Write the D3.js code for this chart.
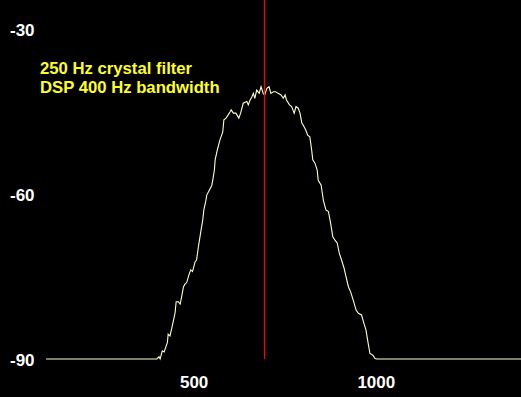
<!DOCTYPE html>
<html>
<head>
<meta charset="utf-8">
<script src="https://cdn.jsdelivr.net/npm/d3@7"></script>
<style>
  html, body { margin: 0; padding: 0; background: #000; }
  svg { display: block; }
  .tick text { font-family: "Liberation Sans", Arial, sans-serif; font-weight: bold; font-size: 17px; fill: #fff; }
  .note { font-family: "Liberation Sans", Arial, sans-serif; font-weight: bold; font-size: 16.7px; fill: #ffff22; }
</style>
</head>
<body>
<script>
// measured response: frequency (Hz) and level (dB)
var freqs = [95, 399, 405, 408, 414, 419, 428, 430, 435, 440, 449, 452, 458, 463, 467, 472, 476, 481, 487, 492,
    497, 504, 508, 513, 519, 525, 528, 533, 536, 543, 550, 554, 557, 559, 565, 572, 580, 583, 589, 598,
    603, 609, 616, 624, 629, 636, 646, 650, 655, 660, 664, 668, 673, 680, 685, 691, 695, 701, 707, 712,
    719, 725, 732, 740, 746, 751, 755, 763, 769, 776, 781, 787, 792, 797, 801, 808, 813, 819, 824, 827,
    833, 839, 842, 850, 856, 863, 870, 876, 882, 888, 894, 900, 906, 913, 916, 925, 931, 938, 946, 952,
    961, 966, 973, 979, 984, 992, 998, 1003, 1400];
var levels = [-90, -90, -89.6, -90, -88.5, -88.7, -87.0, -85.5, -85.8, -84.4, -81.6, -79.6, -79.6, -80.0, -78.7, -76.9, -76.4, -76.1, -74.7, -73.8,
    -74.1, -72.3, -72.0, -69.6, -67.1, -64.7, -62.9, -61.4, -60.2, -59.3, -58.4, -56.9, -55.6, -53.8, -52.0, -50.2, -48.7, -46.5, -46.2, -45.3,
    -44.7, -45.3, -45.3, -46.2, -45.3, -43.5, -43.2, -43.8, -42.9, -42.3, -41.7, -42.6, -41.1, -41.7, -40.5, -41.7, -42.0, -40.8, -40.5, -41.7,
    -41.4, -41.4, -41.7, -42.0, -42.6, -42.0, -42.9, -43.8, -44.1, -45.3, -44.1, -44.4, -45.3, -47.1, -47.5, -48.4, -49.3, -49.6, -52.0, -53.8,
    -54.4, -55.6, -57.5, -58.4, -61.1, -62.9, -63.2, -65.3, -67.8, -68.4, -68.9, -70.8, -72.0, -73.5, -74.4, -76.9, -77.8, -79.3, -81.1, -81.7,
    -82.0, -83.2, -84.7, -87.1, -89.0, -89.3, -89.9, -90, -90];

var xTicks = [500, 1000];
var yTicks = [-30, -60, -90];
var markerFreq = 694;
var notes = ["250 Hz crystal filter", "DSP 400 Hz bandwidth"];

var width = 521, height = 397;

var svg = d3.select("body").append("svg")
    .attr("width", width)
    .attr("height", height);

svg.append("rect").attr("width", width).attr("height", height).attr("fill", "#000");

var x = d3.scaleLinear().domain([0, 1400]).range([11.5, 521.5]);
var y = d3.scaleLinear().domain([-90, -30]).range([359, 29]);

// plain hyphen for the minus sign, like the original
var plain = function (d) { return String(d); };

// y labels sit at the left edge, left aligned
var yAxis = svg.append("g")
    .attr("transform", "translate(10,0)")
    .call(d3.axisLeft(y).tickValues(yTicks).tickSize(0).tickFormat(plain));
yAxis.select(".domain").remove();
yAxis.selectAll("text").attr("text-anchor", "start").attr("x", 0).attr("dy", "0.36em");

var xAxis = svg.append("g")
    .attr("transform", "translate(0,372)")
    .call(d3.axisBottom(x).tickValues(xTicks).tickSize(0).tickFormat(plain));
xAxis.select(".domain").remove();
xAxis.selectAll("text").attr("y", 0).attr("dy", "0.95em");

var pts = freqs.map(function (f, i) { return [f, levels[i]]; });

var line = d3.line()
    .x(function (d) { return x(d[0]); })
    .y(function (d) { return y(d[1]); });

svg.append("path")
    .datum(pts)
    .attr("d", line)
    .attr("fill", "none")
    .attr("stroke", "#ffffcc")
    .attr("stroke-width", 1.1);

svg.append("line")
    .attr("x1", Math.round(x(markerFreq)) + 0.5)
    .attr("x2", Math.round(x(markerFreq)) + 0.5)
    .attr("y1", 0)
    .attr("y2", y(-90))
    .attr("stroke", "#ff0000")
    .attr("stroke-width", 1.3);

svg.selectAll(".note")
    .data(notes)
    .enter().append("text")
    .attr("class", "note")
    .attr("x", 40)
    .attr("y", function (d, i) { return 74 + i * 18.7; })
    .text(function (d) { return d; });
</script>
</body>
</html>
